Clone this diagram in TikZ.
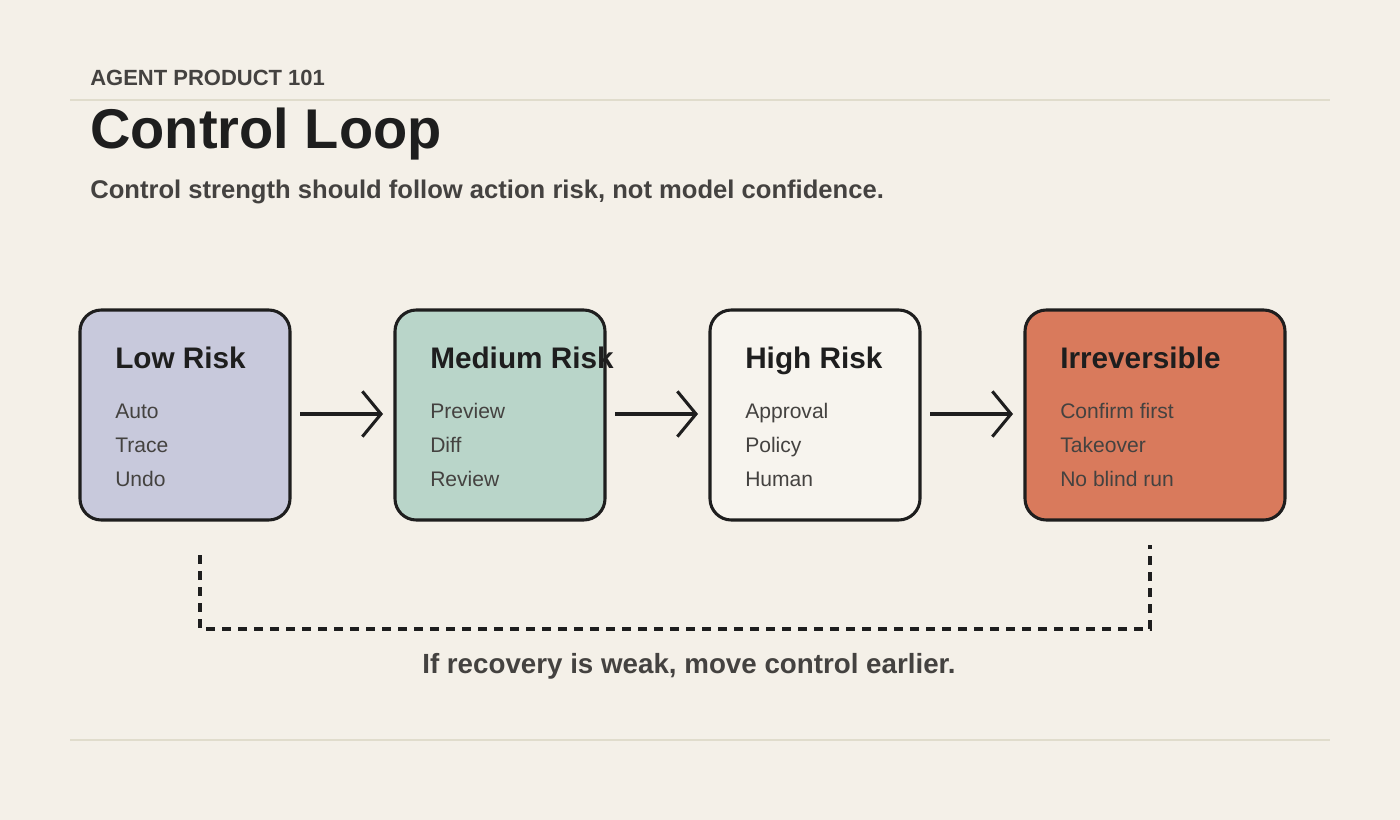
\documentclass[tikz,border=0pt]{standalone}
\usepackage{fontspec}
\setmainfont{Liberation Sans}
\usetikzlibrary{arrows.meta}
\definecolor{bg}{HTML}{F4F0E8}
\definecolor{rule}{HTML}{E0DCCC}
\definecolor{ink}{HTML}{1E1E1E}
\definecolor{txt}{HTML}{444240}
\definecolor{clow}{HTML}{C8C9DC}
\definecolor{cmed}{HTML}{B9D5C9}
\definecolor{chigh}{HTML}{F7F4EE}
\definecolor{cirr}{HTML}{D97A5C}
\begin{document}
\begin{tikzpicture}[x=0.75pt,y=-0.75pt,inner sep=0pt,
 box/.style={draw=ink,line width=2.3pt,rounded corners=16pt},
 ttl/.style={anchor=west,text height=0.72em,text depth=0.2em,font=\bfseries\fontsize{22.3}{26}\selectfont,text=ink},
 itm/.style={anchor=west,text height=0.72em,text depth=0.2em,font=\fontsize{15.8}{18}\selectfont,text=txt},
 arr/.style={draw=ink,line width=2.3pt,-{Straight Barb[length=14pt,width=34pt,line width=2.3pt]}}]
\fill[bg] (0,0) rectangle (1400,820);
\useasboundingbox (0,0) rectangle (1400,820);
\draw[rule,line width=1.2pt] (70,100)--(1330,100);
\draw[rule,line width=1.2pt] (70,740)--(1330,740);
\node[anchor=west,font=\bfseries\fontsize{16.5}{18}\selectfont,text=txt] (kick) at (90,78) {AGENT PRODUCT 101};
\node[anchor=west,font=\bfseries\fontsize{42}{48}\selectfont,text=ink] (title) at (90,134) {Control Loop};
\node[anchor=west,font=\bfseries\fontsize{19.2}{21}\selectfont,text=txt] (sub) at (90,192) {Control strength should follow action risk, not model confidence.};
\draw[box,fill=clow] (80,310) rectangle (290,520);
\draw[box,fill=cmed] (395,310) rectangle (605,520);
\draw[box,fill=chigh] (710,310) rectangle (920,520);
\draw[box,fill=cirr] (1025,310) rectangle (1285,520);
\node[ttl] (t1) at (115,365) {Low Risk};
\node[itm] at (115,415) {Auto};
\node[itm] at (115,449) {Trace};
\node[itm] at (115,483) {Undo};
\node[ttl] (t2) at (430,365) {Medium Risk};
\node[itm] at (430,415) {Preview};
\node[itm] at (430,449) {Diff};
\node[itm] at (430,483) {Review};
\node[ttl] (t3) at (745,365) {High Risk};
\node[itm] at (745,415) {Approval};
\node[itm] at (745,449) {Policy};
\node[itm] at (745,483) {Human};
\node[ttl] (t4) at (1060,365) {Irreversible};
\node[itm] at (1060,415) {Confirm first};
\node[itm] at (1060,449) {Takeover};
\node[itm] at (1060,483) {No blind run};
\coordinate (a1s) at (300,414); \coordinate (a1e) at (383,414);
\coordinate (a2s) at (615,414); \coordinate (a2e) at (698,414);
\coordinate (a3s) at (930,414); \coordinate (a3e) at (1013,414);
\draw[arr] (a1s)--(a1e);
\draw[arr] (a2s)--(a2e);
\draw[arr] (a3s)--(a3e);
\coordinate (d1) at (200,555); \coordinate (d2) at (1150,545);
\draw[ink,line width=2.3pt,dash pattern=on 7pt off 5pt] (d1)--(200,629)--(1150,629)--(d2);
\node[font=\bfseries\fontsize{20.8}{22}\selectfont,text=txt] (foot) at (689,666) {If recovery is weak, move control earlier.};
\end{tikzpicture}
\end{document}
